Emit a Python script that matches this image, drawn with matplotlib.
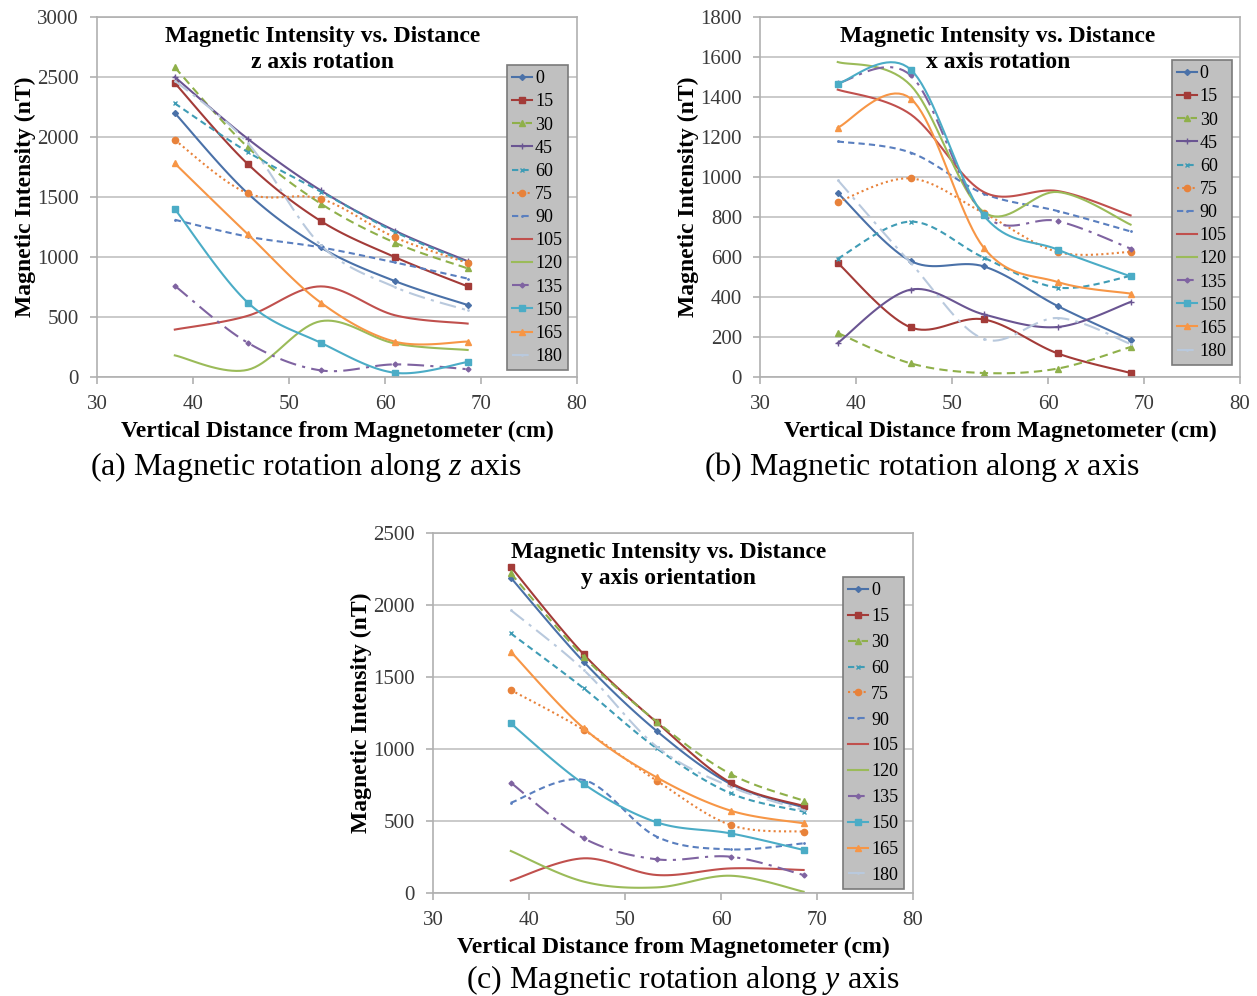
import matplotlib
matplotlib.use("Agg")
import matplotlib.pyplot as plt
import numpy as np

plt.rcParams['font.family'] = ['Liberation Serif', 'DejaVu Serif']
plt.rcParams['mathtext.fontset'] = 'custom'
plt.rcParams['mathtext.rm'] = 'Liberation Serif'
plt.rcParams['mathtext.it'] = 'Liberation Serif:italic'

dist = [38.1, 45.7, 53.3, 61.0, 68.6]

# z axis rotation
z_0 = [2200, 1530, 1080, 800, 600]
z_15 = [2450, 1775, 1300, 1000, 755]
z_30 = [2580, 1915, 1445, 1120, 905]
z_45 = [2500, 1985, 1555, 1220, 965]
z_60 = [2280, 1875, 1545, 1210, 955]
z_75 = [1975, 1530, 1485, 1165, 950]
z_90 = [1310, 1170, 1080, 955, 820]
z_105 = [395, 510, 755, 515, 445]
z_120 = [180, 60, 465, 280, 225]
z_135 = [760, 285, 55, 105, 65]
z_150 = [1400, 620, 285, 35, 125]
z_165 = [1780, 1190, 620, 295, 295]
z_180 = [2470, 1950, 1100, 750, 555]

# x axis rotation
x_0 = [920, 580, 553, 355, 185]
x_15 = [570, 248, 288, 118, 20]
x_30 = [220, 68, 20, 42, 150]
x_45 = [170, 437, 313, 250, 375]
x_60 = [592, 777, 597, 447, 505]
x_75 = [875, 993, 820, 625, 625]
x_90 = [1178, 1122, 917, 830, 728]
x_105 = [1437, 1313, 925, 930, 808]
x_120 = [1575, 1458, 825, 925, 762]
x_135 = [1470, 1508, 813, 780, 642]
x_150 = [1467, 1537, 808, 637, 503]
x_165 = [1247, 1392, 647, 475, 417]
x_180 = [985, 570, 190, 295, 165]

# y axis orientation (no 45)
y_0 = [2190, 1605, 1125, 757, 595]
y_15 = [2265, 1657, 1185, 766, 604]
y_30 = [2220, 1641, 1190, 826, 641]
y_60 = [1803, 1421, 1005, 692, 565]
y_75 = [1410, 1132, 780, 472, 426]
y_90 = [627, 785, 391, 303, 345]
y_105 = [86, 241, 125, 171, 160]
y_120 = [292, 79, 39, 120, 9]
y_135 = [766, 380, 234, 252, 125]
y_150 = [1178, 757, 491, 414, 299]
y_165 = [1676, 1144, 803, 572, 484]
y_180 = [1965, 1549, 1016, 738, 576]

angles_zx = ['0', '15', '30', '45', '60', '75', '90', '105', '120', '135', '150', '165', '180']
angles_y = ['0', '15', '30', '60', '75', '90', '105', '120', '135', '150', '165', '180']

panels = [
    dict(series=[z_0, z_15, z_30, z_45, z_60, z_75, z_90, z_105, z_120, z_135, z_150, z_165, z_180],
         labels=angles_zx, ymax=3000, ystep=500, sub='z axis rotation',
         caption='(a) Magnetic rotation along $z$ axis',
         rect=[0.0772, 0.6215, 0.3819, 0.3614], leg=(0.854, 0.867), lspace=0.34,
         title_x=0.47, cap_xy=(0.2434, 0.531)),
    dict(series=[x_0, x_15, x_30, x_45, x_60, x_75, x_90, x_105, x_120, x_135, x_150, x_165, x_180],
         labels=angles_zx, ymax=1800, ystep=200, sub='x axis rotation',
         caption='(b) Magnetic rotation along $x$ axis',
         rect=[0.6046, 0.6215, 0.3819, 0.3614], leg=(0.858, 0.881), lspace=0.34,
         title_x=0.496, cap_xy=(0.7335, 0.531)),
    dict(series=[y_0, y_15, y_30, y_60, y_75, y_90, y_105, y_120, y_135, y_150, y_165, y_180],
         labels=angles_y, ymax=2500, ystep=500, sub='y axis orientation',
         caption='(c) Magnetic rotation along $y$ axis',
         rect=[0.3445, 0.1034, 0.3819, 0.3614], leg=(0.854, 0.878), lspace=0.49,
         title_x=0.49, cap_xy=(0.5434, 0.016)),
]

styles = {
    '0': ('#4a71a8', '-', 'D', 3),
    '15': ('#a33b38', '-', 's', 4.5),
    '30': ('#8fb04a', (0, (4, 2.5)), '^', 4.5),
    '45': ('#6a5592', '-', '+', 5),
    '60': ('#3f9cb5', (0, (3, 2)), 'x', 3),
    '75': ('#e8823a', (0, (1, 1.5)), 'o', 4.5),
    '90': ('#5a7fbf', (0, (3, 2)), '.', 2),
    '105': ('#c0504d', '-', None, 0),
    '120': ('#9bbb59', '-', None, 0),
    '135': ('#7f63a1', (0, (8, 3, 1.5, 3)), 'D', 2.5),
    '150': ('#4bacc6', '-', 's', 4.5),
    '165': ('#f79646', '-', '^', 4),
    '180': ('#b9c9dd', (0, (8, 3, 1.5, 3)), '.', 2),
}


def smooth(xs, ys, n=20):
    # Excel style smoothed line: Bezier segments with 1/6 tangents
    p = np.column_stack([xs, ys]).astype(float)
    ext = np.vstack([p[0], p, p[-1]])
    t = np.linspace(0, 1, n, endpoint=False)[:, None]
    out = []
    for i in range(len(p) - 1):
        p0 = ext[i + 1]
        p3 = ext[i + 2]
        c1 = p0 + (ext[i + 2] - ext[i]) / 6
        c2 = p3 - (ext[i + 3] - ext[i + 1]) / 6
        seg = ((1 - t) ** 3) * p0 + 3 * ((1 - t) ** 2) * t * c1 + 3 * (1 - t) * t ** 2 * c2 + t ** 3 * p3
        out.append(seg)
    out.append(p[-1][None, :])
    out = np.vstack(out)
    return out[:, 0], out[:, 1]


fig = plt.figure(figsize=(12.57, 9.96), dpi=100)

for pn in panels:
    ax = fig.add_axes(pn['rect'])
    n = 20
    for vals, lab in zip(pn['series'], pn['labels']):
        color, ls, mk, ms = styles[lab]
        sx, sy = smooth(dist, vals, n)
        ax.plot(sx, sy, color=color, ls=ls, lw=1.5, marker=mk, ms=ms,
                markevery=n, mew=1.0, label=lab)

    ax.set_xlim(30, 80)
    ax.set_ylim(0, pn['ymax'])
    ax.set_xticks(range(30, 81, 10))
    ax.set_yticks(np.arange(0, pn['ymax'] + 1, pn['ystep']))
    ax.yaxis.grid(True, color='#c6c6c6', lw=1.3)
    ax.set_axisbelow(True)
    for s in ax.spines.values():
        s.set_color('#b0b0b0')
        s.set_linewidth(1.2)
    ax.tick_params(labelsize=15, colors='#b0b0b0', labelcolor='#3a3a3a',
                   length=5, width=1.2, direction='out', pad=8)
    ax.set_xlabel('Vertical Distance from Magnetometer (cm)', fontsize=17,
                  fontweight='bold', labelpad=5)
    ax.set_ylabel('Magnetic Intensity (nT)', fontsize=17, fontweight='bold',
                  labelpad=1)
    ax.text(pn['title_x'], 0.975, 'Magnetic Intensity vs. Distance\n' + pn['sub'],
            transform=ax.transAxes, ha='center', va='top', fontsize=17,
            fontweight='bold', linespacing=1.3)

    leg = ax.legend(loc='upper left', bbox_to_anchor=pn['leg'], fontsize=13,
                    handlelength=1.1, handletextpad=0.15, borderpad=0.3,
                    labelspacing=pn['lspace'], borderaxespad=0, fancybox=False,
                    framealpha=1, facecolor='#c0c0c0', edgecolor='#7a7a7a')
    leg.get_frame().set_linewidth(1.2)

    fig.text(pn['cap_xy'][0], pn['cap_xy'][1], pn['caption'], ha='center',
             va='center', fontsize=23)

fig.savefig('out.png', dpi=100)
